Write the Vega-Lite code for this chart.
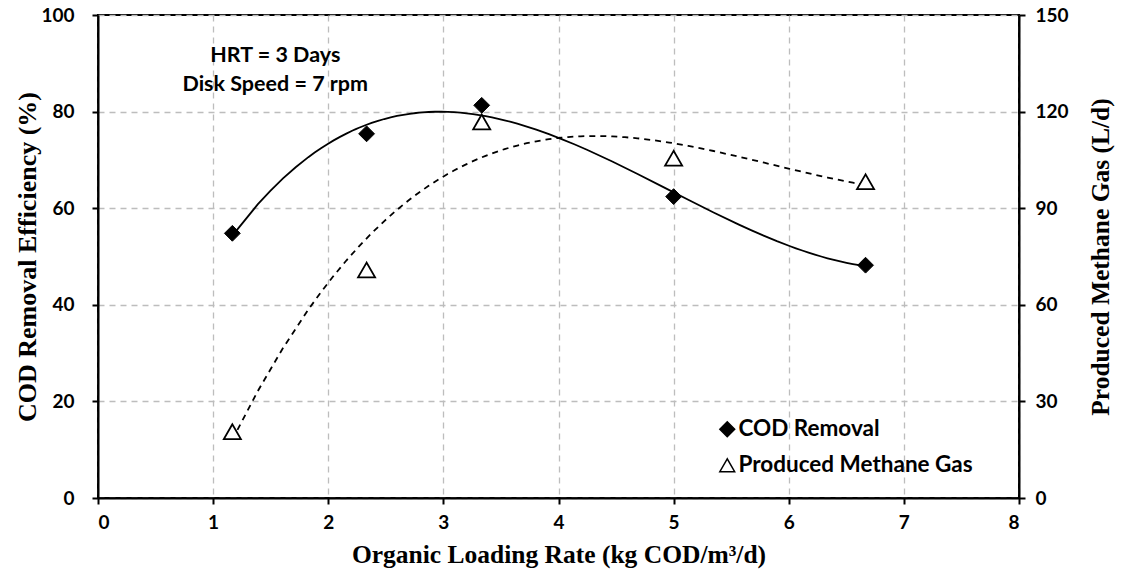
{
  "$schema": "https://vega.github.io/schema/vega-lite/v6.json",
  "width": 921,
  "height": 483,
  "autosize": {"type": "none"},
  "padding": {"left": 98, "top": 15, "right": 107, "bottom": 75},
  "background": "white",
  "config": {
    "view": {"stroke": "black", "strokeWidth": 2},
    "axis": {
      "domainColor": "black", "domainWidth": 2,
      "tickColor": "black", "tickWidth": 2, "tickSize": 6,
      "labelFont": "Lato", "labelFontWeight": "bold", "labelFontSize": 19, "labelColor": "black",
      "titleFont": "Liberation Serif", "titleFontWeight": "bold", "titleFontSize": 25.5, "titleColor": "black",
      "gridColor": "#bdbdbd", "gridDash": [6, 5], "gridWidth": 1.3
    },
    "legend": {
      "labelFont": "Lato", "labelFontWeight": "bold", "labelFontSize": 22.5, "labelColor": "black", "labelLimit": 0
    }
  },
  "data": {
    "values": [
      {"olr": 1.167, "value": 54.8, "series": "COD Removal"},
      {"olr": 2.333, "value": 75.4, "series": "COD Removal"},
      {"olr": 3.333, "value": 81.3, "series": "COD Removal"},
      {"olr": 5.0, "value": 62.4, "series": "COD Removal"},
      {"olr": 6.667, "value": 48.2, "series": "COD Removal"},
      {"olr": 1.167, "value": 20.6, "series": "Produced Methane Gas"},
      {"olr": 2.333, "value": 70.8, "series": "Produced Methane Gas"},
      {"olr": 3.333, "value": 116.8, "series": "Produced Methane Gas"},
      {"olr": 5.0, "value": 105.5, "series": "Produced Methane Gas"},
      {"olr": 6.667, "value": 98.2, "series": "Produced Methane Gas"}
    ]
  },
  "layer": [
    {
      "transform": [{"filter": "datum.series === 'COD Removal'"}],
      "layer": [
        {
          "mark": {"type": "line", "color": "black", "strokeWidth": 1.8},
          "transform": [{"regression": "value", "on": "olr", "method": "poly", "order": 3}],
          "encoding": {
            "x": {"field": "olr", "type": "quantitative"},
            "y": {"field": "value", "type": "quantitative", "scale": {"domain": [0, 100], "nice": false}}
          }
        },
        {
          "mark": {"type": "point", "filled": true, "stroke": "black", "strokeWidth": 1, "size": 250, "opacity": 1},
          "encoding": {
            "x": {"field": "olr", "type": "quantitative", "scale": {"domain": [0, 8], "nice": false},
              "axis": {"title": "Organic Loading Rate (kg COD/m³/d)", "values": [0,1,2,3,4,5,6,7,8], "format": "d", "labelPadding": 9, "titlePadding": 10}},
            "y": {"field": "value", "type": "quantitative", "scale": {"domain": [0, 100], "nice": false},
              "axis": {"title": "COD Removal Efficiency (%)", "titleFontSize": 26, "values": [0,20,40,60,80,100], "labelPadding": 18, "titlePadding": 0}},
            "shape": {"field": "series", "type": "nominal",
              "scale": {"domain": ["COD Removal", "Produced Methane Gas"], "range": ["diamond", "triangle-up"]},
              "legend": {"title": null, "orient": "none", "legendX": 618, "legendY": 403, "symbolSize": 220, "rowPadding": 13, "labelOffset": 0, "padding": 0,
                "encode": {"symbols": {"update": {"stroke": {"value": "black"}, "strokeWidth": {"value": 1.8}}}}}},
            "fill": {"field": "series", "type": "nominal",
              "scale": {"domain": ["COD Removal", "Produced Methane Gas"], "range": ["black", "white"]},
              "legend": {"title": null, "orient": "none", "legendX": 618, "legendY": 403, "symbolSize": 220, "rowPadding": 13, "labelOffset": 0, "padding": 0,
                "encode": {"symbols": {"update": {"stroke": {"value": "black"}, "strokeWidth": {"value": 1.8}}}}}}
          }
        },
        {
          "data": {"values": [
            {"olr": 1.54, "value": 91.6, "label": "HRT = 3 Days"},
            {"olr": 1.54, "value": 85.6, "label": "Disk Speed = 7 rpm"}
          ]},
          "mark": {"type": "text", "font": "Lato", "fontWeight": "bold", "fontSize": 21.5, "color": "black", "align": "center", "baseline": "middle"},
          "encoding": {
            "x": {"field": "olr", "type": "quantitative"},
            "y": {"field": "value", "type": "quantitative"},
            "text": {"field": "label"}
          }
        }
      ]
    },
    {
      "transform": [{"filter": "datum.series === 'Produced Methane Gas'"}],
      "layer": [
        {
          "mark": {"type": "line", "color": "black", "strokeWidth": 1.8, "strokeDash": [6, 5]},
          "transform": [{"regression": "value", "on": "olr", "method": "poly", "order": 3}],
          "encoding": {
            "x": {"field": "olr", "type": "quantitative"},
            "y": {"field": "value", "type": "quantitative", "scale": {"domain": [0, 150], "nice": false}}
          }
        },
        {
          "mark": {"type": "point", "filled": true, "stroke": "black", "strokeWidth": 1.8, "size": 290, "opacity": 1},
          "encoding": {
            "x": {"field": "olr", "type": "quantitative"},
            "y": {"field": "value", "type": "quantitative", "scale": {"domain": [0, 150], "nice": false},
              "axis": {"orient": "right", "title": "Produced Methane Gas (L/d)", "titleAngle": 270, "values": [0,30,60,90,120,150], "grid": false, "labelPadding": 10, "titlePadding": 45}},
            "shape": {"field": "series", "type": "nominal"},
            "fill": {"field": "series", "type": "nominal"}
          }
        }
      ]
    }
  ],
  "resolve": {"scale": {"y": "independent"}}
}
